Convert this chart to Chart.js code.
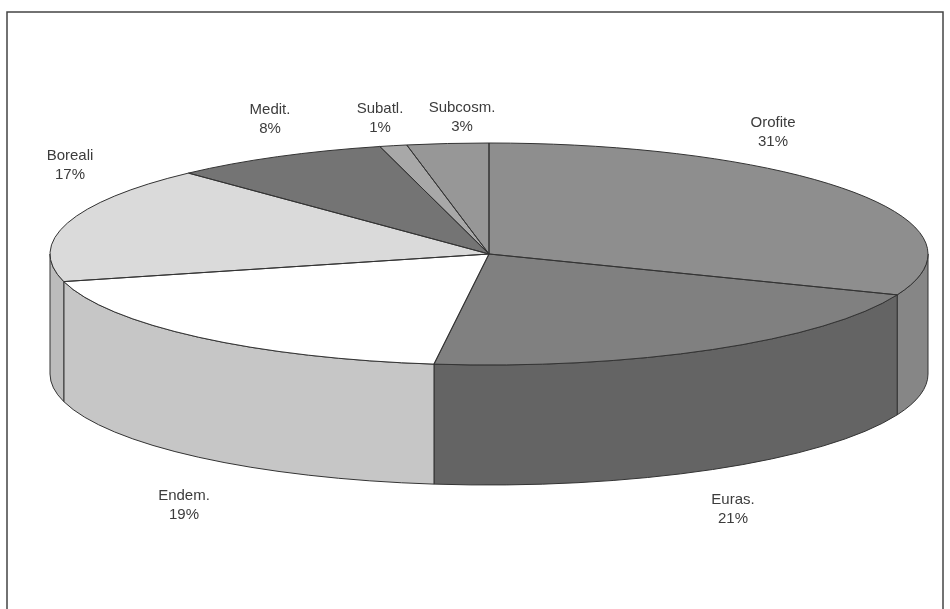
<!DOCTYPE html>
<html>
<head>
<meta charset="utf-8">
<script src="https://cdn.jsdelivr.net/npm/chart.js@4.4.1/dist/chart.umd.min.js"></script>
<style>
html, body { margin: 0; padding: 0; background: #fff; }
#wrap { position: relative; width: 950px; height: 609px; }
</style>
</head>
<body>
<div id="wrap"><canvas id="pie3d"></canvas></div>
<script>
"use strict";
// data, clockwise from 12 o'clock
var categories = ["Orofite", "Euras.", "Endem.", "Boreali", "Medit.", "Subatl.", "Subcosm."];
var shares = [31, 21, 19, 17, 8, 1, 3];

// styling
var topColors = ["#8e8e8e", "#808080", "#ffffff", "#dadada", "#747474", "#a8a8a8", "#979797"];
var sideColors = ["#868686", "#646464", "#c6c6c6", "#bcbcbc", "#5c5c5c", "#888888", "#7a7a7a"];
var labelAt = [[773, 132], [733, 509], [184, 505], [70, 165], [270, 119], [380, 118], [462, 117]];

// ellipse geometry of the tilted pie (page pixels)
var CX = 489, CY = 254, RX = 439, RY = 111, DEPTH = 120;

var pie3d = {
    id: "pie3d",
    beforeDraw: function (chart) {
        var ctx = chart.ctx;
        ctx.save();
        ctx.strokeStyle = "#444";
        ctx.lineWidth = 1.5;
        ctx.strokeRect(7, 12, 936, 700);
        ctx.restore();
    },
    beforeDatasetsDraw: function (chart) {
        var ctx = chart.ctx, arcs = chart.getDatasetMeta(0).data;
        // side wall, only the front half is visible
        ctx.save();
        ctx.lineWidth = 1;
        ctx.strokeStyle = "#333";
        arcs.forEach(function (arc, i) {
            var a1 = Math.max(arc.startAngle, 0), a2 = Math.min(arc.endAngle, Math.PI);
            if (a2 <= a1) return;
            ctx.beginPath();
            ctx.ellipse(CX, CY, RX, RY, 0, a1, a2, false);
            ctx.lineTo(CX + RX * Math.cos(a2), CY + DEPTH + RY * Math.sin(a2));
            ctx.ellipse(CX, CY + DEPTH, RX, RY, 0, a2, a1, true);
            ctx.closePath();
            ctx.fillStyle = sideColors[i];
            ctx.fill();
            ctx.stroke();
        });
        ctx.restore();
        // squash the library's circle into the top ellipse
        var a = arcs[0];
        ctx.save();
        ctx.translate(CX, CY);
        ctx.scale(RX / a.outerRadius, RY / a.outerRadius);
        ctx.translate(-a.x, -a.y);
    },
    afterDatasetsDraw: function (chart) {
        var ctx = chart.ctx, arcs = chart.getDatasetMeta(0).data;
        ctx.restore();
        ctx.save();
        ctx.lineWidth = 1;
        ctx.strokeStyle = "#333";
        arcs.forEach(function (arc) {
            ctx.beginPath();
            ctx.moveTo(CX, CY);
            ctx.ellipse(CX, CY, RX, RY, 0, arc.startAngle, arc.endAngle, false);
            ctx.closePath();
            ctx.stroke();
        });
        ctx.fillStyle = "#3c3c3c";
        ctx.font = "15px 'Liberation Sans', Arial, sans-serif";
        ctx.textAlign = "center";
        ctx.textBaseline = "middle";
        categories.forEach(function (name, i) {
            var p = labelAt[i];
            ctx.fillText(name, p[0], p[1] - 9);
            ctx.fillText(shares[i] + "%", p[0], p[1] + 10);
        });
        ctx.restore();
    }
};

new Chart(document.getElementById("pie3d"), {
    type: "pie",
    data: {
        labels: categories,
        datasets: [{
            data: shares,
            backgroundColor: topColors,
            borderWidth: 0,
            clip: false
        }]
    },
    options: {
        responsive: true,
        maintainAspectRatio: false,
        devicePixelRatio: 1,
        animation: false,
        events: [],
        layout: { padding: 0 },
        plugins: {
            legend: { display: false },
            tooltip: { enabled: false }
        }
    },
    plugins: [pie3d]
});
</script>
</body>
</html>
